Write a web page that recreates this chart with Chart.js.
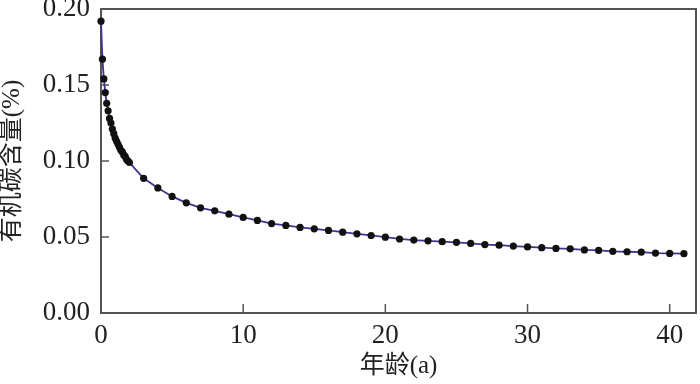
<!DOCTYPE html>
<html>
<head>
<meta charset="utf-8">
<script src="https://cdn.jsdelivr.net/npm/chart.js@4.4.1/dist/chart.umd.min.js"></script>
<style>
  html, body { margin: 0; padding: 0; background: #fff; }
  #wrap { width: 700px; height: 384px; position: relative; }
</style>
</head>
<body>
<div id="wrap"><canvas id="c" width="700" height="384"></canvas></div>
<script>
// Age (years)
const ages = [0, 0.1, 0.2, 0.3, 0.4, 0.5, 0.6, 0.7, 0.8, 0.9, 1.0, 1.1, 1.2, 1.3, 1.4, 1.5, 1.6, 1.7, 1.8, 1.9, 2.0,
  3, 4, 5, 6, 7, 8, 9, 10, 11, 12, 13, 14, 15, 16, 17, 18, 19, 20,
  21, 22, 23, 24, 25, 26, 27, 28, 29, 30, 31, 32, 33, 34, 35, 36, 37, 38, 39, 40, 41];
// Organic carbon content (%)
const toc = [0.192, 0.167, 0.154, 0.145, 0.138, 0.133, 0.128, 0.125, 0.121, 0.118, 0.115, 0.113, 0.111, 0.109, 0.107, 0.106, 0.104, 0.103, 0.101, 0.100, 0.099,
  0.0886, 0.0823, 0.0767, 0.0725, 0.0692, 0.0672, 0.0650, 0.0629, 0.0609, 0.0588, 0.0576, 0.0563, 0.0554, 0.0543, 0.0532, 0.0521, 0.0510, 0.0499,
  0.0487, 0.0480, 0.0475, 0.0469, 0.0465, 0.0458, 0.0450, 0.0446, 0.0440, 0.0435, 0.0430, 0.0425, 0.0422, 0.0415, 0.0412, 0.0406, 0.0403, 0.0400, 0.0394, 0.0392, 0.0390];
const xTickValues = [0, 10, 20, 30, 40];
const yTickValues = [0, 0.05, 0.10, 0.15, 0.20];
const xTitle = '年龄(a)';
const yTitle = '有机碳含量(%)';

const serif = "'Liberation Serif', 'Times New Roman', 'Noto Sans CJK SC', serif";
const axisColor = '#555555';

const framePlugin = {
  id: 'frame',
  beforeDatasetsDraw(chart) {
    const {ctx, chartArea: a, scales} = chart;
    ctx.save();
    ctx.strokeStyle = axisColor;
    ctx.lineWidth = 2;
    ctx.strokeRect(a.left, a.top, a.right - a.left, a.bottom - a.top);
    ctx.lineWidth = 1.5;
    ctx.beginPath();
    scales.x.ticks.forEach(t => {
      const px = scales.x.getPixelForValue(t.value);
      ctx.moveTo(px, a.bottom);
      ctx.lineTo(px, a.bottom - 9);
    });
    scales.y.ticks.forEach(t => {
      const py = scales.y.getPixelForValue(t.value);
      ctx.moveTo(a.left, py);
      ctx.lineTo(a.left + 8, py);
    });
    ctx.stroke();
    ctx.restore();
  }
};

new Chart(document.getElementById('c'), {
  type: 'scatter',
  data: {
    datasets: [{
      data: ages.map((a, i) => ({x: a, y: toc[i]})),
      showLine: true,
      borderColor: '#47308f',
      borderWidth: 1.8,
      pointRadius: 3.6,
      pointBackgroundColor: '#111111',
      pointBorderColor: '#111111',
      pointBorderWidth: 0,
      tension: 0,
      clip: false
    }]
  },
  options: {
    responsive: false,
    animation: false,
    events: [],
    layout: { padding: { top: 9, right: 4, left: 0, bottom: 0 } },
    plugins: { legend: { display: false }, tooltip: { enabled: false } },
    scales: {
      x: {
        type: 'linear',
        min: 0, max: 41.85,
        afterBuildTicks: s => { s.ticks = xTickValues.map(v => ({value: v})); },
        afterFit: s => { s.height = 71; s.paddingLeft = 0; s.paddingRight = 0; },
        grid: { display: false, drawTicks: false },
        border: { display: false },
        ticks: {
          padding: 7,
          color: '#222',
          font: { family: serif, size: 27 },
          callback: v => String(v),
          maxRotation: 0
        },
        title: {
          display: true, text: xTitle, color: '#222',
          font: { family: serif, size: 25, lineHeight: 1.2 },
          padding: { top: 0, bottom: 3 }
        }
      },
      y: {
        type: 'linear',
        min: 0, max: 0.2,
        afterBuildTicks: s => { s.ticks = yTickValues.map(v => ({value: v})); },
        afterFit: s => { s.width = 101; s.paddingTop = 0; s.paddingBottom = 0; },
        grid: { display: false, drawTicks: false },
        border: { display: false },
        ticks: {
          padding: 11,
          color: '#222',
          font: { family: serif, size: 27 },
          callback: v => Number(v).toFixed(2)
        },
        title: {
          display: true, text: yTitle, color: '#222',
          font: { family: serif, size: 25, lineHeight: 1.0 },
          padding: { top: 0, bottom: 0 }
        }
      }
    }
  },
  plugins: [framePlugin]
});
</script>
</body>
</html>
